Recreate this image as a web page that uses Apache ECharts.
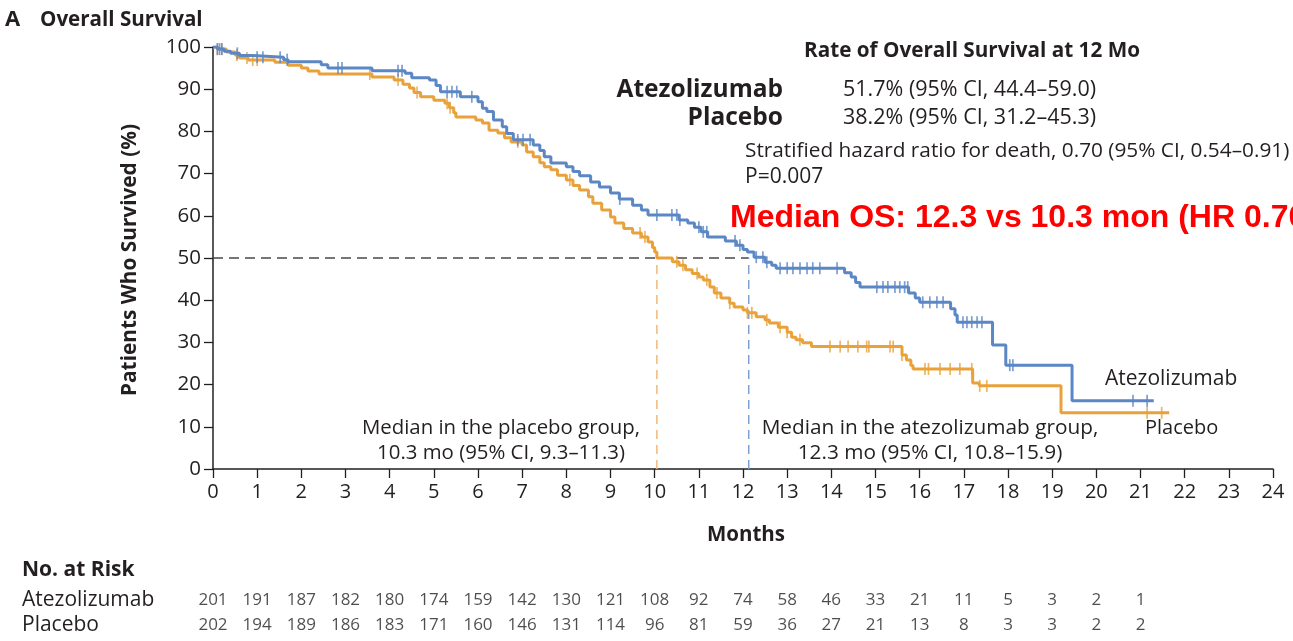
<!DOCTYPE html>
<html><head><meta charset="utf-8">
<script src="https://cdn.jsdelivr.net/npm/echarts@6/dist/echarts.min.js"></script>
<style>html,body{margin:0;padding:0;background:#fff}#c{width:1293px;height:641px}</style>
</head><body><div id="c"></div>
<script>
const monthTicks = [0,1,2,3,4,5,6,7,8,9,10,11,12,13,14,15,16,17,18,19,20,21,22,23,24];
const atezoSurv = [[0,100],[0.1,99.5],[0.25,99.0],[0.4,98.5],[0.6,98.0],[0.9,97.6],[1.6,97.0],[1.7,96.5],[2.45,95.8],[2.6,95.0],[3.6,94.4],[4.35,93.8],[4.5,92.7],[4.9,92.2],[5.05,90.9],[5.15,89.4],[5.6,88.2],[6.0,87.0],[6.1,85.5],[6.2,84.7],[6.35,82.7],[6.55,81.1],[6.65,79.5],[6.8,78.0],[7.25,76.8],[7.4,75.5],[7.5,74.0],[7.65,72.5],[8.0,71.6],[8.15,70.5],[8.3,69.5],[8.55,68.0],[8.75,66.8],[9.0,65.4],[9.2,64.0],[9.5,62.5],[9.7,61.4],[9.85,60.2],[10.55,59.0],[10.75,58.3],[10.9,57.3],[11.05,56.2],[11.2,55.0],[11.6,54.0],[11.85,53.0],[12.0,52.0],[12.1,51.4],[12.25,50.2],[12.5,49.0],[12.65,48.3],[12.75,47.6],[14.3,46.5],[14.45,45.5],[14.55,44.2],[14.65,43.1],[15.75,41.7],[15.9,40.5],[16.0,39.5],[16.7,38.0],[16.8,36.5],[16.85,34.8],[17.65,29.4],[17.95,24.6],[19.45,16.2],[21.3,16.2]];
const placeboSurv = [[0,100],[0.1,99.5],[0.3,98.8],[0.5,98.1],[0.6,97.4],[0.8,96.9],[1.4,96.4],[1.7,95.7],[2.0,95.0],[2.15,94.3],[2.4,93.6],[3.6,92.9],[4.1,92.2],[4.3,91.2],[4.45,90.3],[4.55,89.2],[4.7,88.2],[5.0,87.4],[5.25,86.7],[5.35,85.6],[5.45,84.4],[5.5,83.4],[5.95,82.7],[6.1,82.0],[6.25,80.3],[6.45,79.6],[6.6,78.5],[6.75,77.5],[7.0,76.8],[7.1,75.1],[7.25,74.0],[7.4,72.6],[7.5,71.6],[7.65,70.9],[7.8,69.6],[8.0,68.5],[8.15,67.2],[8.3,66.1],[8.5,64.5],[8.6,63.0],[8.8,61.4],[9.0,59.7],[9.1,58.3],[9.3,57.0],[9.5,55.9],[9.7,55.0],[9.85,53.8],[9.95,52.5],[10.0,51.4],[10.05,50.0],[10.4,49.1],[10.55,48.3],[10.7,47.2],[10.85,46.3],[11.0,45.5],[11.1,44.8],[11.25,43.1],[11.35,41.7],[11.5,40.5],[11.7,39.3],[11.8,38.4],[12.0,37.7],[12.1,37.0],[12.3,36.1],[12.5,35.3],[12.6,34.6],[12.8,33.6],[13.0,32.4],[13.1,31.2],[13.2,30.6],[13.35,29.9],[13.55,29.0],[15.6,27.0],[15.7,25.8],[15.8,24.5],[15.85,23.7],[17.2,20.4],[17.35,19.7],[19.2,13.3],[21.65,13.3]];
const atezoCensor = [0.1,0.15,0.2,0.55,1.0,1.13,1.52,1.68,2.83,2.92,4.19,4.28,5.3,5.41,5.52,5.86,6.9,7.02,7.18,9.21,10.05,10.39,10.5,10.57,11.0,11.1,11.18,11.82,11.93,12.3,12.45,12.54,12.84,13.0,13.13,13.29,13.45,13.58,13.74,14.13,15.03,15.17,15.28,15.44,15.55,15.66,15.73,16.07,16.23,16.39,16.53,16.98,17.07,17.18,17.3,17.41,18.04,18.11,20.83,21.15];
const placeboCensor = [0.1,0.2,0.54,0.77,0.9,1.0,3.55,4.19,4.62,5.3,5.37,6.9,8.08,9.67,9.78,10.5,10.64,10.96,11.18,11.41,11.7,12.1,12.2,12.54,12.84,13.0,13.29,13.97,14.2,14.38,14.6,14.8,14.85,15.33,15.4,15.6,16.12,16.2,16.46,16.69,16.91,17.18,17.36,17.52,21.15,21.48];
const riskMonths = [0,1,2,3,4,5,6,7,8,9,10,11,12,13,14,15,16,17,18,19,20,21];
const atezoRisk = [201,191,187,182,180,174,159,142,130,121,108,92,74,58,46,33,21,11,5,3,2,1];
const placeboRisk = [202,194,189,186,183,171,160,146,131,114,96,81,59,36,27,21,13,8,3,3,2,2];
const medianAtezoDrawn = 12.13;
const medianPlaceboDrawn = 10.05;
const yTicks = [0,10,20,30,40,50,60,70,80,90,100];

const BLUE = '#5b87c5', ORANGE = '#e9a23b', INK = '#231f20';
const FONT = '"Open Sans"';
function stepAt(curve, t){ let v = curve[0][1]; for (const p of curve){ if (p[0] <= t) v = p[1]; else break; } return v; }
const chart = echarts.init(document.getElementById('c'), null, {renderer:'canvas'});
function txt(text, x, y, opt){ opt = opt||{}; return {type:'text', x:x, y:y, rotation: opt.rot||0, z:100,
  style:{text:text, fill: opt.fill||INK, font: opt.font || ('21px ' + FONT), align: opt.align||'left', textAlign: opt.align||'left', verticalAlign:'middle', textVerticalAlign:'middle'}}; }
const cens = (times, curve) => times.map(t => [t, stepAt(curve, t)]);
const option = {
  animation:false,
  grid:[{left:213, right:20, top:47, bottom:172, containLabel:false},
        {left:213, right:20, top:587.5, height:50}],
  xAxis:[{type:'value', min:0, max:24, interval:1, gridIndex:0,
    axisLine:{lineStyle:{color:INK, width:1.5}}, axisTick:{length:9, lineStyle:{color:INK, width:1.3}},
    axisLabel:{color:INK, fontFamily:'Open Sans', fontSize:20, margin:13}, splitLine:{show:false}},
    {type:'value', min:0, max:24, gridIndex:1, show:false}],
  yAxis:[{type:'value', min:0, max:100, interval:10, gridIndex:0,
    axisLine:{show:true, lineStyle:{color:INK, width:1.5}}, axisTick:{show:true, length:9, lineStyle:{color:INK, width:1.3}},
    axisLabel:{color:INK, fontFamily:'Open Sans', fontSize:20.5, margin:12}, splitLine:{show:false}},
    {type:'category', data:['Placebo','Atezolizumab'], gridIndex:1, show:false}],
  series:[
    {type:'line', data:[[0,50],[medianAtezoDrawn,50]], symbol:'none', lineStyle:{color:'#4a4a4a', width:1.5, type:[10,6]}, z:1},
    {type:'line', data:[[medianPlaceboDrawn,0],[medianPlaceboDrawn,50]], symbol:'none', lineStyle:{color:'#f2b77a', width:1.5, type:[9,6]}, z:1},
    {type:'line', data:[[medianAtezoDrawn,0],[medianAtezoDrawn,50]], symbol:'none', lineStyle:{color:'#7ba0d4', width:1.5, type:[9,6]}, z:1},
    {name:'Placebo', type:'line', step:'end', data:placeboSurv, symbol:'none', lineStyle:{color:ORANGE, width:3}, z:3},
    {name:'Atezolizumab', type:'line', step:'end', data:atezoSurv, symbol:'none', lineStyle:{color:BLUE, width:3}, z:4},
    {type:'scatter', data:cens(placeboCensor, placeboSurv), symbol:'rect', symbolSize:[1.7,12], itemStyle:{color:ORANGE}, z:3},
    {type:'scatter', data:cens(atezoCensor, atezoSurv), symbol:'rect', symbolSize:[1.7,12], itemStyle:{color:BLUE}, z:4},
    {type:'scatter', xAxisIndex:1, yAxisIndex:1, symbolSize:0, silent:true,
      data: riskMonths.map((m,i)=>[m,'Atezolizumab',atezoRisk[i]]),
      label:{show:true, position:'inside', formatter:p=>p.value[2], color:INK, fontFamily:'Open Sans', fontSize:17}},
    {type:'scatter', xAxisIndex:1, yAxisIndex:1, symbolSize:0, silent:true,
      data: riskMonths.map((m,i)=>[m,'Placebo',placeboRisk[i]]),
      label:{show:true, position:'inside', formatter:p=>p.value[2], color:INK, fontFamily:'Open Sans', fontSize:17}}
  ],
  graphic:[
    txt('A', 5, 20, {font:'bold 22px '+FONT}),
    txt('Overall Survival', 40, 20, {font:'bold 20.6px '+FONT}),
    txt('Patients Who Survived (%)', 130, 260, {font:'bold 20.8px '+FONT, align:'center', rot:Math.PI/2}),
    txt('Months', 746, 535, {font:'bold 20.5px '+FONT, align:'center'}),
    txt('Rate of Overall Survival at 12 Mo', 972, 51, {font:'bold 20.7px '+FONT, align:'center'}),
    txt('Atezolizumab', 783, 90, {font:'bold 24.5px '+FONT, align:'right'}),
    txt('Placebo', 783, 118, {font:'bold 24.5px '+FONT, align:'right'}),
    txt('51.7% (95% CI, 44.4\u201359.0)', 843, 90, {font:'21.5px '+FONT}),
    txt('38.2% (95% CI, 31.2\u201345.3)', 843, 118, {font:'21.5px '+FONT}),
    txt('Stratified hazard ratio for death, 0.70 (95% CI, 0.54\u20130.91)', 745, 151, {font:'20.8px '+FONT}),
    txt('P=0.007', 745, 177, {font:'21px '+FONT}),
    txt('Median OS: 12.3 vs 10.3 mon (HR 0.70)', 730, 218, {font:'bold 32px "Liberation Sans", Arial', fill:'#ff0000'}),
    txt('Median in the placebo group,', 501, 428, {font:'20.4px '+FONT, align:'center'}),
    txt('10.3 mo (95% CI, 9.3\u201311.3)', 501, 453, {font:'20.4px '+FONT, align:'center'}),
    txt('Median in the atezolizumab group,', 930, 428, {font:'20.8px '+FONT, align:'center'}),
    txt('12.3 mo (95% CI, 10.8\u201315.9)', 930, 453, {font:'20.8px '+FONT, align:'center'}),
    txt('Atezolizumab', 1105, 379, {font:'21px '+FONT}),
    txt('Placebo', 1145, 428, {font:'20px '+FONT}),
    txt('No. at Risk', 22, 570, {font:'bold 21px '+FONT}),
    txt('Atezolizumab', 22, 600, {font:'21px '+FONT}),
    txt('Placebo', 22, 625, {font:'21px '+FONT})
  ]
};
chart.setOption(option);
</script></body></html>
